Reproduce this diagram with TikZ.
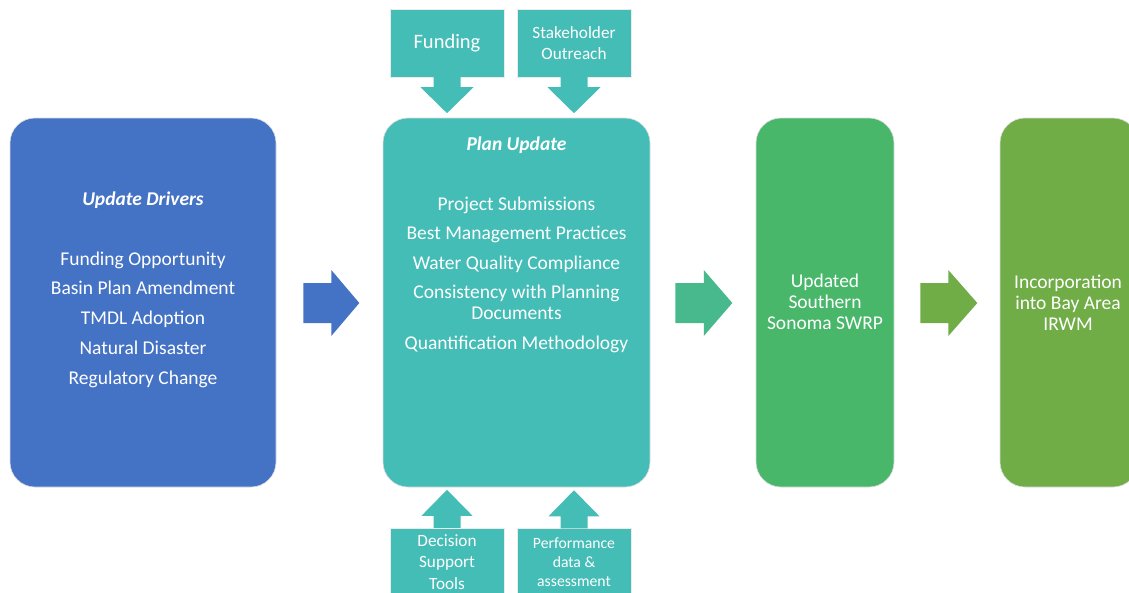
\documentclass[tikz,border=0pt]{standalone}
\usepackage{fontspec}
\setmainfont{Carlito}
\usetikzlibrary{calc}

\definecolor{driverblue}{HTML}{4472C4}
\definecolor{planteal}{HTML}{44BDB7}
\definecolor{linkgreen}{HTML}{47B98C}
\definecolor{swrpgreen}{HTML}{48B76A}
\definecolor{irwmgreen}{HTML}{70AD47}

\newcommand{\bodyfont}{\fontsize{19.5}{21}\selectfont}

\begin{document}
\begin{tikzpicture}[x=1pt,y=-1pt,
  stage/.style={rounded corners=25pt, draw=black!14, line width=0.6pt,
                inner sep=0pt, minimum height=369pt},
  feeder/.style={fill=planteal, draw=black!8, line width=0.4pt, inner sep=0pt,
                 minimum width=114pt, minimum height=68pt, text=white, align=center},
  caption/.style={text=white, align=center, inner sep=0pt, font=\bodyfont}]

\useasboundingbox (0,0) rectangle (1129,592);
\clip (0,0) rectangle (1129,592);

% main stages
\node[stage, fill=driverblue, minimum width=266pt] (drivers) at (143,302.5) {};
\node[stage, fill=planteal,   minimum width=267pt] (plan)    at (516.5,302.5) {};
\node[stage, fill=swrpgreen,  minimum width=138pt] (swrp)    at (825,302.5) {};
\node[stage, fill=irwmgreen,  minimum width=138pt] (irwm)    at (1069,302.5) {};

% stage texts
\node[caption] (driverstext) at (143,289.5) {%
  \textbf{\textit{Update Drivers}}\\[39pt]
  Funding Opportunity\\[8.7pt]
  Basin Plan Amendment\\[8.7pt]
  TMDL Adoption\\[8.7pt]
  Natural Disaster\\[8.7pt]
  Regulatory Change};

\node[caption] (plantext) at (516.5,245) {%
  \textbf{\textit{Plan Update}}\\[39pt]
  Project Submissions\\[8.5pt]
  Best Management Practices\\[8.5pt]
  Water Quality Compliance\\[8.5pt]
  Consistency with Planning\\
  Documents\\[9pt]
  Quantification Methodology};

\node[caption] (swrptext) at (825,302) {Updated\\Southern\\Sonoma SWRP};
\node[caption] (irwmtext) at (1068,303) {Incorporation\\into Bay Area\\IRWM};

% feeding inputs
\node[feeder, font=\fontsize{20.5}{24}\selectfont] (funding) at (447,43) {Funding};
\node[feeder, font=\fontsize{17.2}{21}\selectfont] (outreach) at (574,43) {Stakeholder\\Outreach};
\node[feeder, font=\fontsize{17.2}{21.5}\selectfont] (tools) at (447,562) {Decision\\Support\\Tools};
\node[feeder, font=\fontsize{15.7}{19}\selectfont] (perf) at (574,562.5) {Performance\\data \&\\assessment};

% downward block arrows into the plan update
\foreach \src in {funding,outreach}
  \fill[planteal] ($(\src.south)+(-13.5,0)$) -- ++(27,0) -- ++(0,10) -- ++(13,0)
    -- ++(-26.5,26) -- ++(-26.5,-26) -- ++(13,0) -- cycle;

% upward block arrows into the plan update
\foreach \src in {tools,perf}
  \fill[planteal] ($(\src.north)+(-13.5,0)$) -- ++(0,-12) -- ++(-12,0)
    -- ++(25.5,-26) -- ++(25.5,26) -- ++(-12,0) -- ++(0,12) -- cycle;

% block arrows between stages
\fill[driverblue] ($(drivers.east)+(27,-19.5)$) -- ++(28,0) -- ++(0,-13)
  -- ++(28,33) -- ++(-28,33) -- ++(0,-13) -- ++(-28,0) -- cycle;
\fill[linkgreen] ($(plan.east)+(25,-19.5)$) -- ++(28.5,0) -- ++(0,-13)
  -- ++(28.5,33) -- ++(-28.5,33) -- ++(0,-13) -- ++(-28.5,0) -- cycle;
\fill[irwmgreen] ($(swrp.east)+(26,-19.5)$) -- ++(28,0) -- ++(0,-13)
  -- ++(29,33) -- ++(-29,33) -- ++(0,-13) -- ++(-28,0) -- cycle;
\end{tikzpicture}
\end{document}
